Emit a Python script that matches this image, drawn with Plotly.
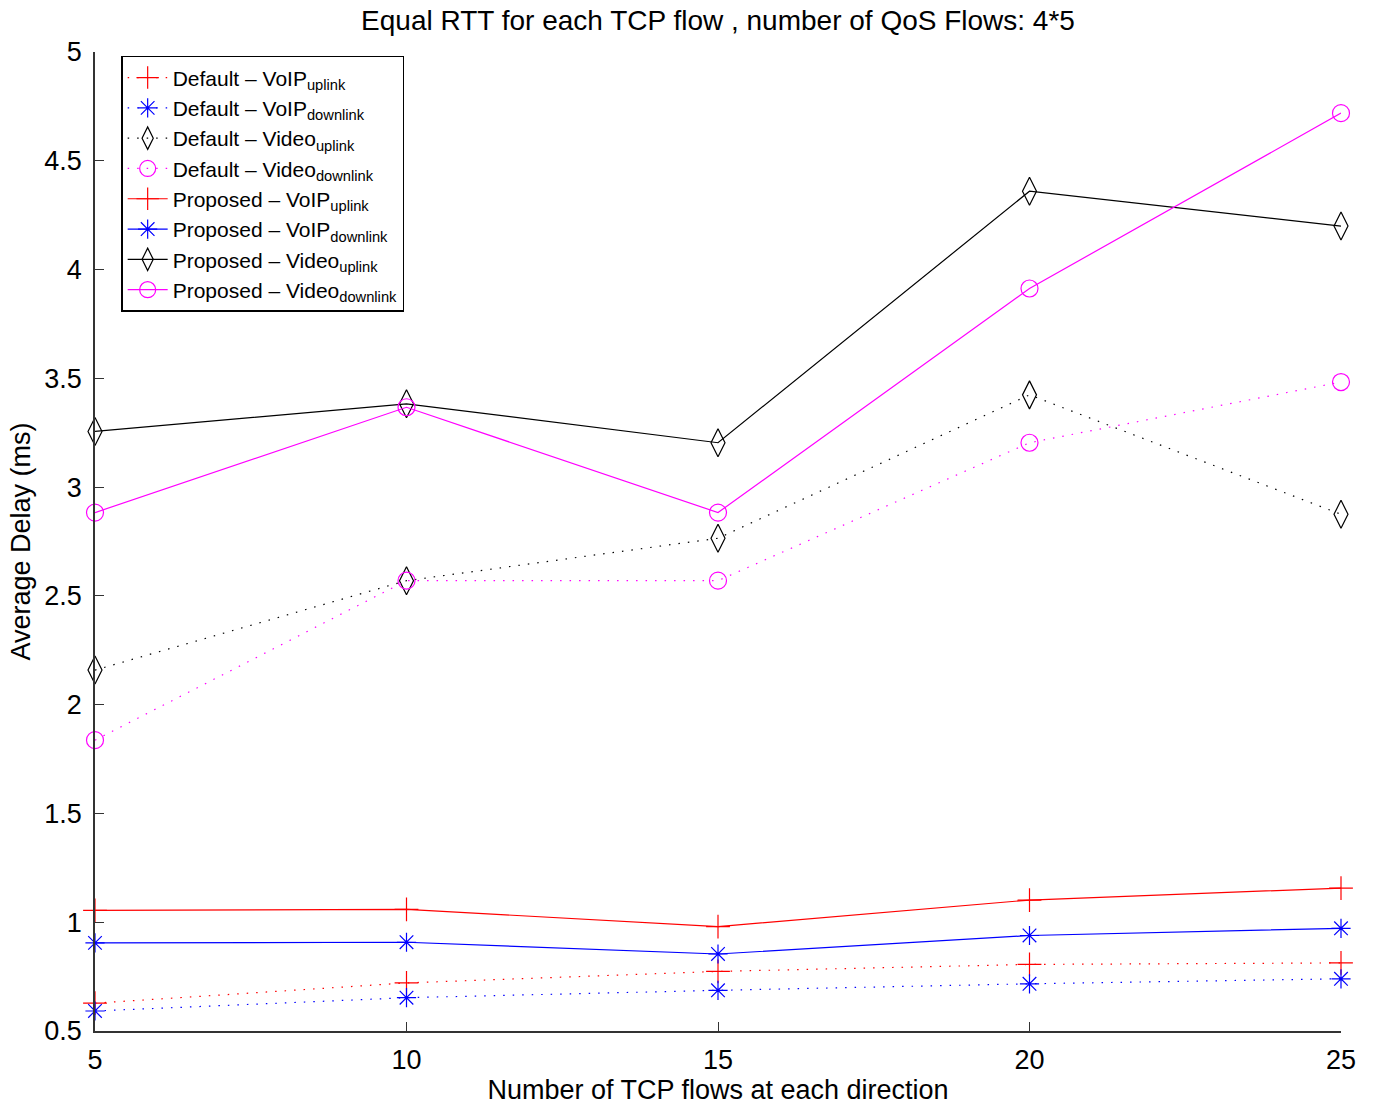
import plotly.graph_objects as go

# Number of TCP flows in each direction
tcp_flows = [5, 10, 15, 20, 25]

# Average delay (ms), default scheduler
default_voip_up = [0.628, 0.721, 0.774, 0.806, 0.813]
default_voip_down = [0.592, 0.653, 0.687, 0.717, 0.740]
default_video_up = [2.159, 2.570, 2.765, 3.424, 2.875]
default_video_down = [1.837, 2.570, 2.570, 3.204, 3.483]

# Average delay (ms), proposed scheduler
proposed_voip_up = [1.054, 1.059, 0.980, 1.102, 1.157]
proposed_voip_down = [0.905, 0.908, 0.854, 0.939, 0.972]
proposed_video_up = [3.256, 3.383, 3.204, 4.360, 4.200]
proposed_video_down = [2.883, 3.367, 2.883, 3.913, 4.719]

y_ticks = [0.5, 1, 1.5, 2, 2.5, 3, 3.5, 4, 4.5, 5]

FONT = "Liberation Sans, Arial, Helvetica, sans-serif"
DOTTED = "1.5px,8px"

series = [
    ("Default – VoIP<sub>uplink</sub>", default_voip_up, "#ff0000", "cross-thin-open", 17, DOTTED),
    ("Default – VoIP<sub>downlink</sub>", default_voip_down, "#0000ff", "asterisk-open", 16, DOTTED),
    ("Default – Video<sub>uplink</sub>", default_video_up, "#000000", "diamond-tall-open", 20, DOTTED),
    ("Default – Video<sub>downlink</sub>", default_video_down, "#ff00ff", "circle-open", 17, DOTTED),
    ("Proposed – VoIP<sub>uplink</sub>", proposed_voip_up, "#ff0000", "cross-thin-open", 17, "solid"),
    ("Proposed – VoIP<sub>downlink</sub>", proposed_voip_down, "#0000ff", "asterisk-open", 16, "solid"),
    ("Proposed – Video<sub>uplink</sub>", proposed_video_up, "#000000", "diamond-tall-open", 20, "solid"),
    ("Proposed – Video<sub>downlink</sub>", proposed_video_down, "#ff00ff", "circle-open", 17, "solid"),
]

fig = go.Figure()
for name, values, color, symbol, size, dash in series:
    fig.add_trace(go.Scatter(
        x=tcp_flows, y=values, name=name, mode="lines+markers", cliponaxis=False,
        line=dict(color=color, width=1.2, dash=dash),
        marker=dict(symbol=symbol, size=size, color=color,
                    line=dict(color=color, width=1.2)),
    ))

fig.update_layout(
    width=1375, height=1110,
    margin=dict(l=95, r=34, t=52, b=76),
    paper_bgcolor="white", plot_bgcolor="white",
    font=dict(family=FONT, size=27, color="black"),
    title=dict(text="Equal RTT for each TCP flow , number of QoS Flows: 4*5",
               x=0.5, xref="paper", xanchor="center", y=1 - 20 / 1110, yanchor="middle",
               font=dict(size=28)),
    showlegend=True,
    legend=dict(x=0.021, y=0.996, xanchor="left", yanchor="top",
                bordercolor="black", borderwidth=1.5, bgcolor="white",
                font=dict(size=21), tracegroupgap=0, itemwidth=40),
)

fig.update_xaxes(
    range=[5, 25], tickvals=tcp_flows, ticks="inside", ticklen=9, tickcolor="#333",
    showline=True, linecolor="#333", linewidth=1.5, showgrid=False, zeroline=False,
    title=dict(text="Number of TCP flows at each direction", standoff=4, font=dict(size=27)),
    tickfont=dict(size=27), ticklabelstandoff=4,
)
fig.update_yaxes(
    range=[0.5, 5], tickvals=y_ticks, ticktext=[f"{v:g}" for v in y_ticks],
    ticks="inside", ticklen=9, tickcolor="#333",
    showline=True, linecolor="#333", linewidth=1.5, showgrid=False, zeroline=False,
    title=dict(text="Average Delay (ms)", standoff=6, font=dict(size=27)),
    tickfont=dict(size=27), ticklabelstandoff=6,
)

fig.write_html("out.html")
